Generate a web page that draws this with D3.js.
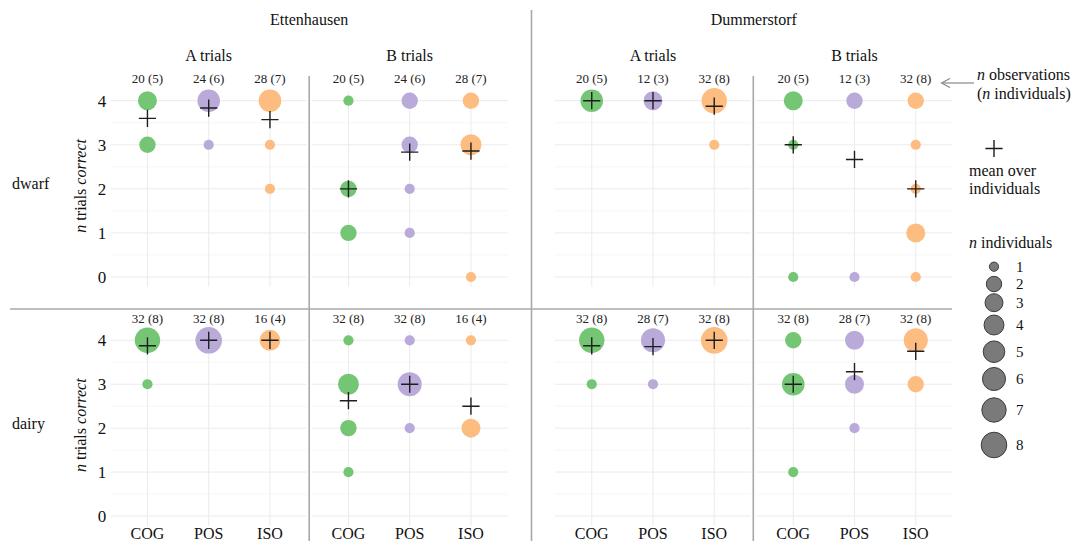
<!DOCTYPE html>
<html>
<head>
<meta charset="utf-8">
<script src="https://cdn.jsdelivr.net/npm/d3@7"></script>
<style>
  html, body { margin: 0; padding: 0; background: #fff; }
  svg text { font-family: 'Liberation Serif', 'DejaVu Serif', 'Times New Roman', Times, serif; }
</style>
</head>
<body>
<svg id="chart" width="1072" height="541"></svg>
<script>
// Number of individuals reaching each score (index = trials correct, 0..4)
const conditions = ["COG", "POS", "ISO"];
const scoreTicks = [0, 1, 2, 3, 4];
const sites = ["Ettenhausen", "Dummerstorf"];
const trialTypes = ["A trials", "B trials"];
const breeds = ["dwarf", "dairy"];
const sizeLegendValues = [1, 2, 3, 4, 5, 6, 7, 8];

const dwarfEttenhausenA = [[0, 0, 0, 2, 3], [0, 0, 0, 1, 5], [0, 0, 1, 1, 5]];
const dwarfEttenhausenB = [[0, 2, 2, 0, 1], [0, 1, 1, 2, 2], [1, 0, 0, 4, 2]];
const dwarfDummerstorfA = [[0, 0, 0, 0, 5], [0, 0, 0, 0, 3], [0, 0, 0, 1, 7]];
const dwarfDummerstorfB = [[1, 0, 0, 1, 3], [1, 0, 0, 0, 2], [1, 3, 1, 1, 2]];
const dairyEttenhausenA = [[0, 0, 0, 1, 7], [0, 0, 0, 0, 8], [0, 0, 0, 0, 4]];
const dairyEttenhausenB = [[0, 1, 2, 4, 1], [0, 0, 1, 6, 1], [0, 0, 3, 0, 1]];
const dairyDummerstorfA = [[0, 0, 0, 1, 7], [0, 0, 0, 1, 6], [0, 0, 0, 0, 8]];
const dairyDummerstorfB = [[0, 1, 0, 5, 2], [0, 0, 1, 3, 3], [0, 0, 0, 2, 6]];

const trialsPerIndividual = 4;

const panelData = {
  dwarf: [dwarfEttenhausenA, dwarfEttenhausenB, dwarfDummerstorfA, dwarfDummerstorfB],
  dairy: [dairyEttenhausenA, dairyEttenhausenB, dairyDummerstorfA, dairyDummerstorfB]
};

const colors = d3.scaleOrdinal().domain(conditions).range(["#74c674", "#baaada", "#fdbc80"]);

const FONT = "'Liberation Serif', 'DejaVu Serif', 'Times New Roman', Times, serif";
const svg = d3.select("#chart").attr("font-family", FONT);

// layout
const panelLefts = [110.7, 311.7, 555, 756.5];
const panelWidth = 196;
const rowTop = { dwarf: 100.7, dairy: 340.3 };
const rowBottom = { dwarf: 277, dairy: 516 };

// circle radius grows with the square root of n individuals
const rScale = d3.scaleSqrt().domain([0, 7]).range([5.1, 13.3]);
const radius = n => rScale(n - 1);

const gridLayer = svg.append("g");
const frameLayer = svg.append("g");
const markLayer = svg.append("g");
const textLayer = svg.append("g").attr("font-family", FONT);

function label(parent, x, y, size, str, anchor) {
  return parent.append("text")
    .attr("x", x).attr("y", y)
    .attr("text-anchor", anchor || "start")
    .attr("dominant-baseline", "central")
    .attr("font-family", FONT)
    .attr("font-size", size).attr("fill", "#111")
    .text(str);
}

breeds.forEach(breed => {
  const y = d3.scaleLinear().domain([0, 4]).range([rowBottom[breed], rowTop[breed]]);

  panelLefts.forEach((left, pi) => {
    const x = d3.scalePoint().domain(conditions).range([left, left + panelWidth]).padding(0.6);
    const data = panelData[breed][pi];

    // minor + major horizontal grid
    d3.range(0.5, 4, 1).forEach(v => {
      gridLayer.append("line")
        .attr("x1", left).attr("x2", left + panelWidth)
        .attr("y1", y(v)).attr("y2", y(v))
        .attr("stroke", "#f6f6f6").attr("stroke-width", 1);
    });
    scoreTicks.forEach(v => {
      gridLayer.append("line")
        .attr("x1", left).attr("x2", left + panelWidth)
        .attr("y1", y(v)).attr("y2", y(v))
        .attr("stroke", "#ebebeb").attr("stroke-width", 1);
    });
    // vertical grid
    conditions.forEach(c => {
      gridLayer.append("line")
        .attr("x1", x(c)).attr("x2", x(c))
        .attr("y1", y(4.2)).attr("y2", y(-0.22))
        .attr("stroke", "#ebebeb").attr("stroke-width", 1);
    });

    conditions.forEach((c, ci) => {
      const counts = data[ci];
      const nInd = d3.sum(counts);
      const mean = d3.sum(counts, (k, s) => k * s) / nInd;

      // circles per score
      counts.forEach((k, s) => {
        if (k === 0) return;
        markLayer.append("circle")
          .attr("cx", x(c)).attr("cy", y(s))
          .attr("r", radius(k))
          .attr("fill", colors(c));
      });

      // mean marker (+)
      const cx = x(c), cy = y(mean), h = 8.6;
      markLayer.append("path")
        .attr("d", `M${cx - h},${cy}H${cx + h}M${cx},${cy - h}V${cy + h}`)
        .attr("stroke", "#1e1e1e").attr("stroke-width", 1.4).attr("fill", "none");

      // n observations (n individuals)
      label(textLayer, x(c), y(4) - 22, 13, `${nInd * trialsPerIndividual} (${nInd})`, "middle")
        .attr("fill", "#222");

      if (breed === "dairy") {
        label(textLayer, x(c), 533, 16, c, "middle");
      }
    });

    if (pi === 0) {
      // y axis tick labels
      const axis = d3.axisLeft(y).tickValues(scoreTicks).tickFormat(d3.format("d")).tickSize(0).tickPadding(4);
      const ag = textLayer.append("g").attr("transform", `translate(${left - 0.5},0)`).call(axis)
        .attr("font-family", FONT);
      ag.select(".domain").remove();
      ag.selectAll("text")
        .attr("font-size", 17).attr("font-family", FONT).attr("fill", "#111");

      // axis title
      const midY = (rowTop[breed] + rowBottom[breed]) / 2 - 3;
      const t = textLayer.append("text")
        .attr("transform", `translate(80,${midY}) rotate(-90)`)
        .attr("text-anchor", "middle").attr("dominant-baseline", "central")
        .attr("font-family", FONT)
        .attr("font-size", 16).attr("fill", "#111");
      t.append("tspan").attr("font-style", "italic").text("n");
      t.append("tspan").text(" trials ");
      t.append("tspan").attr("font-style", "italic").text("correct");

      // row label
      label(textLayer, 12, midY - 2, 16, breed);
    }
  });
});

// site and trial-type headers
sites.forEach((site, si) => {
  const l = panelLefts[si * 2], r = panelLefts[si * 2 + 1] + panelWidth;
  label(textLayer, (l + r) / 2, 19, 16, site, "middle");
  trialTypes.forEach((tt, ti) => {
    const pl = panelLefts[si * 2 + ti];
    label(textLayer, pl + panelWidth / 2, 55, 16, tt, "middle");
  });
});

// panel separators
const sep = "#a8a8a8";
frameLayer.append("line").attr("x1", 531.5).attr("x2", 531.5).attr("y1", 10).attr("y2", 541)
  .attr("stroke", sep).attr("stroke-width", 1.6);
[309.2, 753.3].forEach(xv => {
  frameLayer.append("line").attr("x1", xv).attr("x2", xv).attr("y1", 76).attr("y2", 541)
    .attr("stroke", sep).attr("stroke-width", 1.6);
});
frameLayer.append("line").attr("x1", 10).attr("x2", 952).attr("y1", 309).attr("y2", 309)
  .attr("stroke", sep).attr("stroke-width", 1.6);

// legend: annotation of the count labels
const lg = textLayer.append("g");
const obs = label(lg, 977, 73.5, 16, null);
obs.append("tspan").attr("font-style", "italic").text("n");
obs.append("tspan").text(" observations");
const ind = label(lg, 977, 92.5, 16, null);
ind.append("tspan").text("(");
ind.append("tspan").attr("font-style", "italic").text("n");
ind.append("tspan").text(" individuals)");

lg.append("line").attr("x1", 974).attr("x2", 942).attr("y1", 83).attr("y2", 83)
  .attr("stroke", "#888").attr("stroke-width", 1.2);
lg.append("path").attr("d", "M950,78.5L941.5,83L950,87.5")
  .attr("stroke", "#888").attr("stroke-width", 1.2).attr("fill", "none");

// legend: mean marker
lg.append("path").attr("d", `M${994 - 8.6},148.5H${994 + 8.6}M994,${148.5 - 8.6}V${148.5 + 8.6}`)
  .attr("stroke", "#1e1e1e").attr("stroke-width", 1.4).attr("fill", "none");
label(lg, 969, 170, 16, "mean over");
label(lg, 969, 188, 16, "individuals");

// legend: circle size
const sz = label(lg, 969, 241.5, 16, null);
sz.append("tspan").attr("font-style", "italic").text("n");
sz.append("tspan").text(" individuals");

const legendY = d3.scaleOrdinal().domain(sizeLegendValues).range([266.7, 284, 302.7, 325, 351.7, 379, 410, 445]);
sizeLegendValues.forEach(n => {
  lg.append("circle").attr("cx", 994).attr("cy", legendY(n)).attr("r", radius(n) - 0.5)
    .attr("fill", "#7a7a7a").attr("stroke", "#3c3c3c").attr("stroke-width", 1);
  label(lg, 1016, legendY(n), 15, n);
});
</script>
</body>
</html>
